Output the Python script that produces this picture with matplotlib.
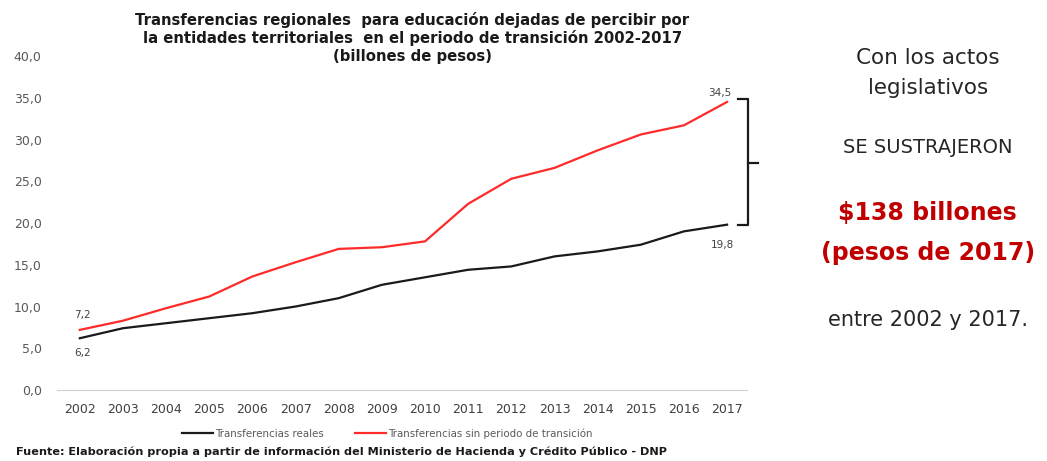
import matplotlib
matplotlib.use("Agg")
import matplotlib.pyplot as plt

plt.rcParams['font.family'] = ['DejaVu Sans']

years = [str(y) for y in range(2002, 2018)]
reales = [6.2, 7.4, 8.0, 8.6, 9.2, 10.0, 11.0, 12.6, 13.5, 14.4, 14.8, 16.0, 16.6, 17.4, 19.0, 19.8]
sin_transicion = [7.2, 8.3, 9.8, 11.2, 13.6, 15.3, 16.9, 17.1, 17.8, 22.3, 25.3, 26.6, 28.7, 30.6, 31.7, 34.5]
yticks = [0, 5, 10, 15, 20, 25, 30, 35, 40]
label_reales = "Transferencias reales"
label_sin = "Transferencias sin periodo de transición"

fig = plt.figure(figsize=(10.47, 4.61), dpi=100)
ax = fig.add_axes([0.0544, 0.154, 0.659, 0.7245])

x = list(range(len(years)))
ax.plot(x, reales, color='#1a1a1a', lw=1.6, label=label_reales)
ax.plot(x, sin_transicion, color='#ff2a2a', lw=1.6, label=label_sin)

ax.set_xlim(-0.53, len(years) - 0.54)
ax.set_ylim(0, 40)
ax.set_yticks(yticks)
ax.set_yticklabels([f"{v:.1f}".replace('.', ',') for v in yticks], color='#595959', fontsize=9)
ax.set_xticks(x)
ax.set_xticklabels(years, color='#404040', fontsize=9)
ax.tick_params(axis='both', length=0)
ax.tick_params(axis='y', pad=11)
ax.tick_params(axis='x', pad=9)
for s in ['top', 'right', 'left']:
    ax.spines[s].set_visible(False)
ax.spines['bottom'].set_color('#d0d0d0')

def fmt(v):
    return f"{v:.1f}".replace('.', ',')

lab_kw = dict(fontsize=7.5, color='#404040', ha='center')
ax.annotate(fmt(sin_transicion[0]), (x[0], sin_transicion[0]), xytext=(2, 7), textcoords='offset points', va='bottom', **lab_kw)
ax.annotate(fmt(reales[0]), (x[0], reales[0]), xytext=(2, -7), textcoords='offset points', va='top', **lab_kw)
ax.annotate(fmt(sin_transicion[-1]), (x[-1], sin_transicion[-1]), xytext=(-5, 3), textcoords='offset points', va='bottom', **lab_kw)
ax.annotate(fmt(reales[-1]), (x[-1], reales[-1]), xytext=(-3, -11), textcoords='offset points', va='top', **lab_kw)

# bracket
top, bot = sin_transicion[-1], reales[-1]
xb0, xb1, xb2 = x[-1] + 0.26, x[-1] + 0.49, x[-1] + 0.72
mid = (top + bot) / 2
ax.plot([xb0, xb1, xb1, xb0], [top + 0.4, top + 0.4, bot, bot], color='#1a1a1a', lw=1.6, clip_on=False)
ax.plot([xb1, xb2], [mid, mid], color='#1a1a1a', lw=1.6, clip_on=False)

fig.text(0.394, 0.975, "Transferencias regionales  para educación dejadas de percibir por\n"
         "la entidades territoriales  en el periodo de transición 2002-2017\n(billones de pesos)",
         ha='center', va='top', fontsize=10.7, fontweight='bold', color='#1a1a1a', linespacing=1.2)

leg = fig.legend(loc='center', bbox_to_anchor=(0.370, 0.059), ncol=2, frameon=False,
                 fontsize=7.4, handlelength=3.0, columnspacing=3.0, handletextpad=0.25)
for t in leg.get_texts():
    t.set_color('#595959')

fig.text(0.015, 0.021, "Fuente: Elaboración propia a partir de información del Ministerio de Hacienda y Crédito Público - DNP",
         ha='left', va='center', fontsize=8.1, fontweight='bold', color='#1a1a1a')

cx = 0.886
fig.text(cx, 0.874, "Con los actos", ha='center', va='center', fontsize=15.5, color='#262626')
fig.text(cx, 0.809, "legislativos", ha='center', va='center', fontsize=15.5, color='#262626')
fig.text(cx, 0.679, "SE SUSTRAJERON", ha='center', va='center', fontsize=14, color='#262626')
fig.text(cx, 0.538, "$138 billones", ha='center', va='center', fontsize=17, fontweight='bold', color='#c00000')
fig.text(cx, 0.451, "(pesos de 2017)", ha='center', va='center', fontsize=17, fontweight='bold', color='#c00000')
fig.text(cx, 0.306, "entre 2002 y 2017.", ha='center', va='center', fontsize=15, color='#262626')

fig.savefig("out.png", dpi=100)
